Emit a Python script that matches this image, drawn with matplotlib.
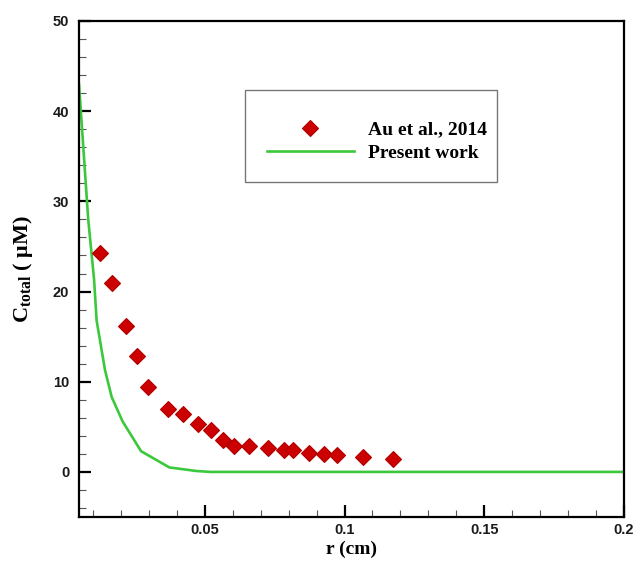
import matplotlib
matplotlib.use("Agg")
import matplotlib.pyplot as plt
from matplotlib.patches import Rectangle
from matplotlib.ticker import MultipleLocator, FixedLocator

plt.rcParams['mathtext.fontset'] = 'custom'
plt.rcParams['mathtext.rm'] = 'Liberation Serif:bold'
plt.rcParams['mathtext.bf'] = 'Liberation Serif:bold'
plt.rcParams['mathtext.it'] = 'Liberation Serif:bold'

# Experimental data (Au et al., 2014)
exp_r = [0.0125, 0.0168, 0.0219, 0.0259, 0.0298, 0.0370, 0.0421, 0.0475, 0.0523,
         0.0566, 0.0606, 0.0659, 0.0727, 0.0782, 0.0817, 0.0874, 0.0928, 0.0973,
         0.1067, 0.1173]
exp_c = [24.3, 20.9, 16.2, 12.8, 9.4, 7.0, 6.4, 5.3, 4.6,
         3.5, 2.9, 2.9, 2.65, 2.4, 2.4, 2.07, 2.0, 1.85,
         1.6, 1.44]

# Present work (simulation)
sim_r = [0.005, 0.0083, 0.0104, 0.0113, 0.0143, 0.0167, 0.0206, 0.0272, 0.0373,
         0.047, 0.052, 0.2]
sim_c = [43.0, 28.0, 21.3, 16.8, 11.3, 8.3, 5.6, 2.3, 0.5,
         0.1, 0.0, 0.0]

x_major = [0.05, 0.1, 0.15, 0.2]
x_labels = ['0.05', '0.1', '0.15', '0.2']
y_major = [0, 10, 20, 30, 40, 50]

fig = plt.figure(figsize=(6.35, 5.61), dpi=100)
ax = fig.add_axes([79/635, 1-517/561, 545/635, 496/561])

ax.plot(exp_r, exp_c, linestyle='none', marker='D', markersize=8.5,
        color='#CC0000', markeredgecolor='#B00000', markeredgewidth=0.8,
        label='Au et al., 2014', zorder=3)
ax.plot(sim_r, sim_c, color='#3CC83C', linewidth=1.9, label='Present work', zorder=2)

ax.set_xlim(0.005, 0.2)
ax.set_ylim(-5, 50)
ax.xaxis.set_major_locator(FixedLocator(x_major))
ax.set_xticklabels(x_labels)
ax.xaxis.set_minor_locator(MultipleLocator(0.01))
ax.yaxis.set_major_locator(FixedLocator(y_major))
ax.yaxis.set_minor_locator(MultipleLocator(2))

ax.tick_params(which='both', direction='in', top=False, right=False)
ax.tick_params(which='major', length=8.5, width=1.6, pad=4)
ax.tick_params(which='minor', length=5, width=0.8, color='#555555')
ax.tick_params(axis='y', which='major', pad=7)
for lab in ax.get_xticklabels() + ax.get_yticklabels():
    lab.set_fontfamily('Liberation Sans')
    lab.set_fontweight('bold')
    lab.set_fontsize(10.5)
    lab.set_color('#1a1a1a')
for sp in ax.spines.values():
    sp.set_linewidth(1.6)

ax.set_xlabel('r (cm)', fontfamily='Liberation Serif', fontweight='bold', fontsize=14, labelpad=3)
ax.set_ylabel(r'C$_{\mathrm{total}}$ ( μM)', fontfamily='Liberation Serif', fontweight='bold',
              fontsize=16, labelpad=13)

# Legend box
ax.add_patch(Rectangle((245/635, 1-182/561), 252/635, 92/561, transform=fig.transFigure,
                       facecolor='white', edgecolor='#777777', linewidth=1.0, zorder=5,
                       clip_on=False))
leg = ax.legend(loc='upper left', bbox_to_anchor=(267/635, 1-121/561),
                bbox_transform=fig.transFigure, frameon=False, borderpad=0, borderaxespad=0,
                handlelength=4.45, handletextpad=0.72, labelspacing=0.3,
                prop={'family': 'Liberation Serif', 'weight': 'bold', 'size': 14})
leg.set_zorder(6)

fig.savefig('out.png', dpi=100)
